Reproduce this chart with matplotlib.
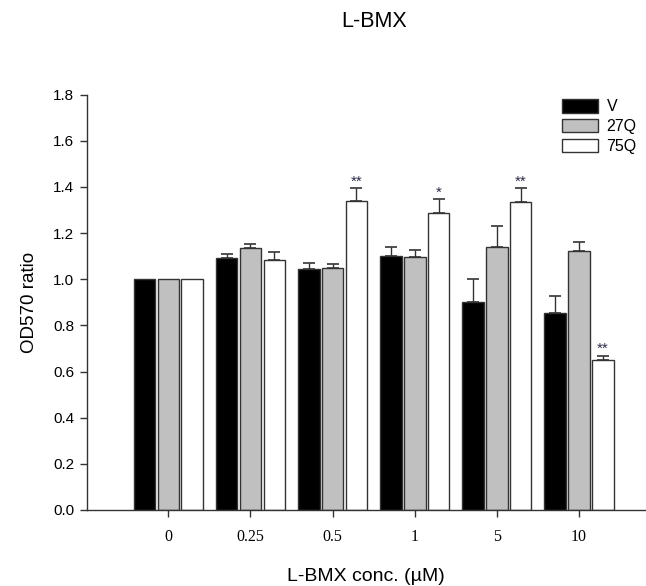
import matplotlib
matplotlib.use("Agg")
import matplotlib.pyplot as plt
import numpy as np

plt.rcParams['font.family'] = ['Liberation Sans', 'DejaVu Sans']

categories = ["0", "0.25", "0.5", "1", "5", "10"]
series_names = ["V", "27Q", "75Q"]
v_vals = [1.00, 1.092, 1.043, 1.102, 0.902, 0.854]
q27_vals = [1.00, 1.133, 1.048, 1.097, 1.139, 1.123]
q75_vals = [1.00, 1.081, 1.339, 1.287, 1.333, 0.652]
v_err = [0.0, 0.019, 0.026, 0.038, 0.098, 0.072]
q27_err = [0.0, 0.021, 0.017, 0.031, 0.090, 0.036]
q75_err = [0.0, 0.036, 0.054, 0.059, 0.060, 0.015]
q75_marks = ["", "", "**", "*", "**", "**"]

colors = ["#000000", "#c0c0c0", "#ffffff"]

fig = plt.figure(figsize=(6.46, 5.86), dpi=100)
ax = fig.add_axes([0.134, 0.1297, 0.866, 0.709])

x = np.arange(len(categories))
offset = 0.29
width = 0.262
all_vals = [v_vals, q27_vals, q75_vals]
all_errs = [v_err, q27_err, q75_err]
for i, (vals, errs, c, name) in enumerate(zip(all_vals, all_errs, colors, series_names)):
    pos = x + (i - 1) * offset
    ax.bar(pos, vals, width=width, color=c, edgecolor="#333333", linewidth=1.0, label=name, zorder=2)
    vals_a = np.array(vals)
    errs_a = np.array(errs)
    m = errs_a > 0
    ax.errorbar(pos[m], vals_a[m], yerr=[np.zeros(m.sum()), errs_a[m]], fmt='none', ecolor="#333333",
                elinewidth=1.0, capsize=4.2, capthick=1.2, zorder=1)

pos75 = x + offset
for p, v, e, mk in zip(pos75, q75_vals, q75_err, q75_marks):
    if mk:
        ax.annotate(mk, xy=(p, v + e), xytext=(0, 0), textcoords='offset points',
                    ha='center', va='bottom', fontsize=11, color="#2a2a48",
                    family=['Liberation Sans'])

ax.set_xlim(-0.995, 5.815)
ax.set_ylim(0, 1.8)
ax.set_yticks(np.arange(0, 1.81, 0.2))
ax.set_yticklabels([f"{t:.1f}" for t in np.arange(0, 1.81, 0.2)], fontsize=11)
ax.set_xticks(x)
ax.set_xticklabels(categories, fontsize=11.5, family=['Liberation Serif'])
ax.tick_params(axis='both', direction='out', length=5, width=1.0, color="#333333")
ax.tick_params(axis='x', pad=9)
ax.tick_params(axis='y', pad=4)

for s in ['top', 'right']:
    ax.spines[s].set_visible(False)
for s in ['left', 'bottom']:
    ax.spines[s].set_linewidth(1.0)
    ax.spines[s].set_color("#333333")

ax.set_ylabel("OD570 ratio", fontsize=13.5, labelpad=11)
ax.set_xlabel("L-BMX conc. (\u00b5M)", fontsize=14, labelpad=16)
fig.text(0.579, 0.963, "L-BMX", ha='center', va='center', fontsize=15.5)

leg = ax.legend(loc='upper left', bbox_to_anchor=(0.838, 1.004), frameon=False, fontsize=11.5,
                handlelength=2.3, handleheight=0.9, handletextpad=0.5, labelspacing=0.3,
                borderaxespad=0)

fig.savefig("out.png", dpi=100)
